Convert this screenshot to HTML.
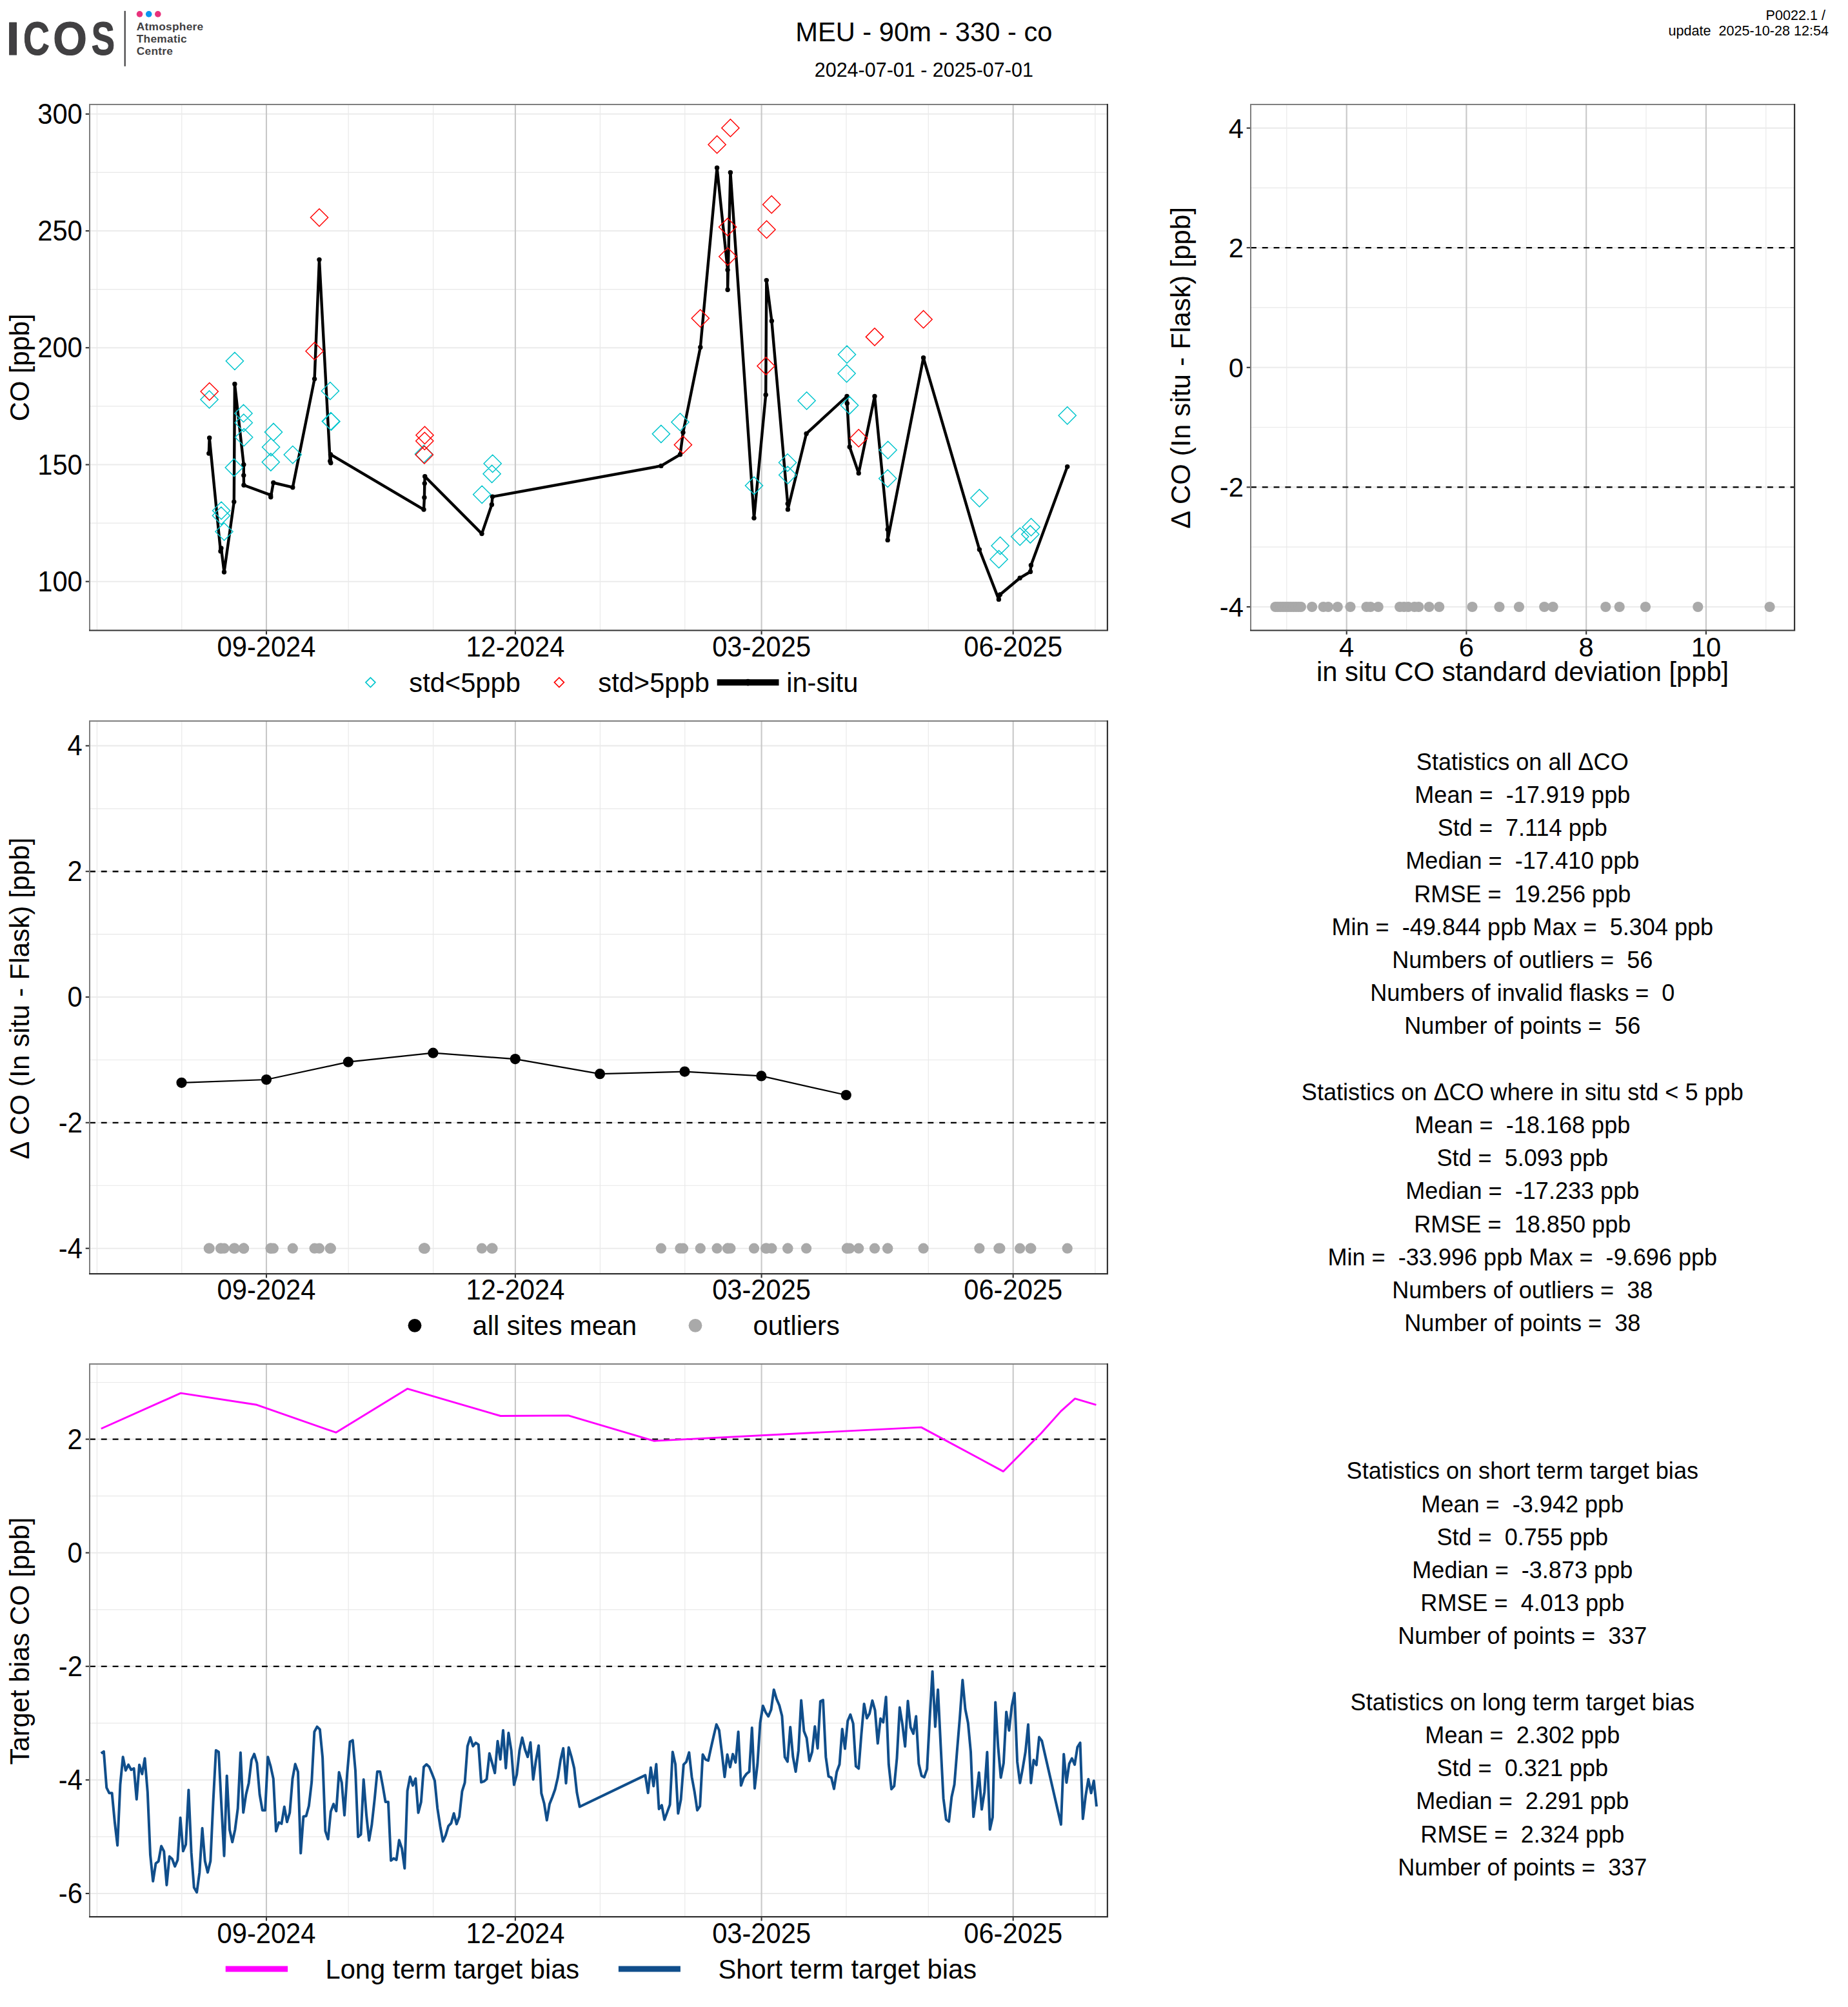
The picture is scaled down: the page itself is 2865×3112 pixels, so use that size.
<!DOCTYPE html>
<html lang="en"><head><meta charset="utf-8"><title>MEU - 90m - 330 - co</title>
<style>
html,body{margin:0;padding:0;background:#fff}
body{width:2865px;height:3112px;overflow:hidden}
svg{display:block}
text{font-family:"Liberation Sans",Arial,Helvetica,sans-serif;fill:#000}
.t{font-size:41.67px}
.s{font-size:36.1px}
.gm{stroke:#e8e8e8;stroke-width:1.15}
.gh{stroke:#ebebeb;stroke-width:2.1}
.gv{stroke:#c8c8c8;stroke-width:2.1}
.fl{fill:none;stroke:#7f7f7f;stroke-width:2}
.fd{fill:none;stroke:#333;stroke-width:2.2}
.tk{stroke:#333;stroke-width:2.1}
.da{stroke:#000;stroke-width:2.35;stroke-dasharray:8.9 8.9;fill:none}
.cy{fill:none;stroke:#00c5cd;stroke-width:1.45}
.rd{fill:none;stroke:#ff0000;stroke-width:1.45}
.gd{fill:#a9a9a9}
.lg{font-weight:bold;fill:#414042}
</style></head><body>
<svg width="2865" height="3112" viewBox="0 0 2865 3112" role="img" aria-label="ICOS ATC flask versus in-situ comparison, MEU 90m CO">
<rect width="2865" height="3112" fill="#fff"/>
<g id="logo">
<text class="lg" y="84.9" font-size="72.8" stroke="#414042" stroke-width="1.2" stroke-linejoin="round"><tspan x="9.75" textLength="20.60" lengthAdjust="spacingAndGlyphs">I</tspan><tspan x="36.05" textLength="40.83" lengthAdjust="spacingAndGlyphs">C</tspan><tspan x="82.18" textLength="52.60" lengthAdjust="spacingAndGlyphs">O</tspan><tspan x="141.78" textLength="36.30" lengthAdjust="spacingAndGlyphs">S</tspan></text>
<line x1="193.7" x2="193.7" y1="16.9" y2="102.8" stroke="#414042" stroke-width="2.2"/>
<circle cx="216.5" cy="21.9" r="4.8" fill="#e8327c"/><circle cx="230.7" cy="21.9" r="4.8" fill="#0a96f0"/><circle cx="244.8" cy="21.9" r="4.8" fill="#e8327c"/>
<text class="lg" x="211.7" y="47.2" font-size="17.3" letter-spacing="0.3">Atmosphere</text>
<text class="lg" x="211.7" y="66" font-size="17.3" letter-spacing="0.3">Thematic</text>
<text class="lg" x="211.7" y="85.1" font-size="17.3" letter-spacing="0.3">Centre</text>
</g>
<text class="t" text-anchor="middle" x="1432.3" y="63.9">MEU - 90m - 330 - co</text>
<text text-anchor="middle" x="1432.3" y="119.0" font-size="30.5">2024-07-01 - 2025-07-01</text>
<text text-anchor="end" x="2830.0" y="30.8" font-size="21.6">P0022.1 /</text>
<text text-anchor="end" x="2835.0" y="55.3" font-size="21.6" xml:space="preserve">update  2025-10-28 12:54</text>
<g id="p1">
<line class="gm" x1="139" x2="1716.9" y1="267.4" y2="267.4"/>
<line class="gm" x1="139" x2="1716.9" y1="448.6" y2="448.6"/>
<line class="gm" x1="139" x2="1716.9" y1="629.9" y2="629.9"/>
<line class="gm" x1="139" x2="1716.9" y1="811.1" y2="811.1"/>
<line class="gm" x1="150.4" x2="150.4" y1="162" y2="977.5"/>
<line class="gm" x1="281.8" x2="281.8" y1="162" y2="977.5"/>
<line class="gm" x1="540.2" x2="540.2" y1="162" y2="977.5"/>
<line class="gm" x1="671.7" x2="671.7" y1="162" y2="977.5"/>
<line class="gm" x1="930.4" x2="930.4" y1="162" y2="977.5"/>
<line class="gm" x1="1061.8" x2="1061.8" y1="162" y2="977.5"/>
<line class="gm" x1="1312" x2="1312" y1="162" y2="977.5"/>
<line class="gm" x1="1439.3" x2="1439.3" y1="162" y2="977.5"/>
<line class="gm" x1="1697.9" x2="1697.9" y1="162" y2="977.5"/>
<line class="gh" x1="139" x2="1716.9" y1="176.8" y2="176.8"/>
<line class="gh" x1="139" x2="1716.9" y1="358" y2="358"/>
<line class="gh" x1="139" x2="1716.9" y1="539.2" y2="539.2"/>
<line class="gh" x1="139" x2="1716.9" y1="720.5" y2="720.5"/>
<line class="gh" x1="139" x2="1716.9" y1="901.7" y2="901.7"/>
<line class="gv" x1="413" x2="413" y1="162" y2="977.5"/>
<line class="gv" x1="798.9" x2="798.9" y1="162" y2="977.5"/>
<line class="gv" x1="1180.6" x2="1180.6" y1="162" y2="977.5"/>
<line class="gv" x1="1570.7" x2="1570.7" y1="162" y2="977.5"/>
<polyline fill="none" stroke="#000" stroke-width="4.4" stroke-linejoin="round" points="323.8,703.1 324.7,679 342,854.8 342.9,850 347.5,887 362.8,778.1 363.9,595.5 377.8,720.4 377.8,737.1 378,752.2 419.6,767.6 419.8,770.8 423.8,748.5 453.8,755.7 487.6,587.6 495,402.6 511.7,715 512.8,717.8 512.5,704.7 657,790.1 657.9,771.5 658.3,749.6 658.7,738.8 747,827.6 762.4,782.4 763.5,770.1 1024.9,722.4 1054.5,704.8 1059,670.6 1085.8,538.5 1111.6,260.2 1128.1,418.6 1128.1,449.3 1132.4,267.4 1169,803.2 1187.2,612.3 1188.3,434.6 1196.4,497.8 1221.2,781.1 1221.4,789.9 1250.1,672.4 1313,614.5 1313.3,625.5 1317.2,693 1331.2,733.8 1356,614.5 1376.2,821 1376.2,837.4 1431.6,554.8 1518.4,852.1 1548.4,929.4 1550.4,922 1581.2,896.2 1597.5,886.5 1598.4,876.4 1654.7,723.6"/>
<g fill="#000"><circle cx="323.8" cy="703.1" r="3.7"/><circle cx="324.7" cy="679" r="3.7"/><circle cx="342" cy="854.8" r="3.7"/><circle cx="342.9" cy="850" r="3.7"/><circle cx="347.5" cy="887" r="3.7"/><circle cx="362.8" cy="778.1" r="3.7"/><circle cx="363.9" cy="595.5" r="3.7"/><circle cx="377.8" cy="720.4" r="3.7"/><circle cx="377.8" cy="737.1" r="3.7"/><circle cx="378" cy="752.2" r="3.7"/><circle cx="419.6" cy="767.6" r="3.7"/><circle cx="419.8" cy="770.8" r="3.7"/><circle cx="423.8" cy="748.5" r="3.7"/><circle cx="453.8" cy="755.7" r="3.7"/><circle cx="487.6" cy="587.6" r="3.7"/><circle cx="495" cy="402.6" r="3.7"/><circle cx="511.7" cy="715" r="3.7"/><circle cx="512.8" cy="717.8" r="3.7"/><circle cx="512.5" cy="704.7" r="3.7"/><circle cx="657" cy="790.1" r="3.7"/><circle cx="657.9" cy="771.5" r="3.7"/><circle cx="658.3" cy="749.6" r="3.7"/><circle cx="658.7" cy="738.8" r="3.7"/><circle cx="747" cy="827.6" r="3.7"/><circle cx="762.4" cy="782.4" r="3.7"/><circle cx="763.5" cy="770.1" r="3.7"/><circle cx="1024.9" cy="722.4" r="3.7"/><circle cx="1054.5" cy="704.8" r="3.7"/><circle cx="1059" cy="670.6" r="3.7"/><circle cx="1085.8" cy="538.5" r="3.7"/><circle cx="1111.6" cy="260.2" r="3.7"/><circle cx="1128.1" cy="418.6" r="3.7"/><circle cx="1128.1" cy="449.3" r="3.7"/><circle cx="1132.4" cy="267.4" r="3.7"/><circle cx="1169" cy="803.2" r="3.7"/><circle cx="1187.2" cy="612.3" r="3.7"/><circle cx="1188.3" cy="434.6" r="3.7"/><circle cx="1196.4" cy="497.8" r="3.7"/><circle cx="1221.2" cy="781.1" r="3.7"/><circle cx="1221.4" cy="789.9" r="3.7"/><circle cx="1250.1" cy="672.4" r="3.7"/><circle cx="1313" cy="614.5" r="3.7"/><circle cx="1313.3" cy="625.5" r="3.7"/><circle cx="1317.2" cy="693" r="3.7"/><circle cx="1331.2" cy="733.8" r="3.7"/><circle cx="1356" cy="614.5" r="3.7"/><circle cx="1376.2" cy="821" r="3.7"/><circle cx="1376.2" cy="837.4" r="3.7"/><circle cx="1431.6" cy="554.8" r="3.7"/><circle cx="1518.4" cy="852.1" r="3.7"/><circle cx="1548.4" cy="929.4" r="3.7"/><circle cx="1550.4" cy="922" r="3.7"/><circle cx="1581.2" cy="896.2" r="3.7"/><circle cx="1597.5" cy="886.5" r="3.7"/><circle cx="1598.4" cy="876.4" r="3.7"/><circle cx="1654.7" cy="723.6" r="3.7"/></g>
<path class="cy" d="M310.9 619.4L324.5 605.8L338.1 619.4L324.5 633ZM350.3 559.8L363.9 546.2L377.5 559.8L363.9 573.4ZM363.9 640.9L377.5 627.3L391.1 640.9L377.5 654.5ZM364.2 655.6L377.8 642L391.4 655.6L377.8 669.2ZM364.6 678.1L378.2 664.5L391.8 678.1L378.2 691.7ZM349.2 725L362.8 711.4L376.4 725L362.8 738.6ZM329.5 791.7L343.1 778.1L356.7 791.7L343.1 805.3ZM329.3 799.6L342.9 786L356.5 799.6L342.9 813.2ZM333.9 824.3L347.5 810.7L361.1 824.3L347.5 837.9ZM410.4 670L424 656.4L437.6 670L424 683.6ZM406.5 693.3L420.1 679.7L433.7 693.3L420.1 706.9ZM406.2 716.5L419.8 702.9L433.4 716.5L419.8 730.1ZM440.2 705.1L453.8 691.5L467.4 705.1L453.8 718.7ZM498.3 606.2L511.9 592.6L525.5 606.2L511.9 619.8ZM499.2 653.2L512.8 639.6L526.4 653.2L512.8 666.8ZM643.4 704L657 690.4L670.6 704L657 717.6ZM750.1 718.8L763.7 705.2L777.3 718.8L763.7 732.4ZM749 734.8L762.6 721.2L776.2 734.8L762.6 748.4ZM733.6 766.8L747.2 753.2L760.8 766.8L747.2 780.4ZM1011.3 672.8L1024.9 659.2L1038.5 672.8L1024.9 686.4ZM1040.9 654.4L1054.5 640.8L1068.1 654.4L1054.5 668ZM1299.4 549.7L1313 536.1L1326.6 549.7L1313 563.3ZM1299 579.1L1312.6 565.5L1326.2 579.1L1312.6 592.7ZM1155.4 753L1169 739.4L1182.6 753L1169 766.6ZM1207.4 717.3L1221 703.7L1234.6 717.3L1221 730.9ZM1207.6 736.6L1221.2 723L1234.8 736.6L1221.2 750.2ZM1237 621.3L1250.6 607.7L1264.2 621.3L1250.6 634.9ZM1303.4 628.5L1317 614.9L1330.6 628.5L1317 642.1ZM1363 697.8L1376.6 684.2L1390.2 697.8L1376.6 711.4ZM1362.6 741.9L1376.2 728.3L1389.8 741.9L1376.2 755.5ZM1504.8 772.3L1518.4 758.7L1532 772.3L1518.4 785.9ZM1641.1 644.3L1654.7 630.7L1668.3 644.3L1654.7 657.9ZM1537 846.2L1550.6 832.6L1564.2 846.2L1550.6 859.8ZM1535 867.2L1548.6 853.6L1562.2 867.2L1548.6 880.8ZM1567.6 832.1L1581.2 818.5L1594.8 832.1L1581.2 845.7ZM1585 817.3L1598.6 803.7L1612.2 817.3L1598.6 830.9ZM1583.7 828.5L1597.3 814.9L1610.9 828.5L1597.3 842.1ZM499.9 653.6L513.5 640L527.1 653.6L513.5 667.2Z"/>
<path class="rd" d="M311.1 607.1L324.7 593.5L338.3 607.1L324.7 620.7ZM474 544.4L487.6 530.8L501.2 544.4L487.6 558ZM644.9 674.8L658.5 661.2L672.1 674.8L658.5 688.4ZM644.7 683.8L658.3 670.2L671.9 683.8L658.3 697.4ZM644.3 705.3L657.9 691.7L671.5 705.3L657.9 718.9ZM481.4 337.3L495 323.7L508.6 337.3L495 350.9ZM1045.3 689.7L1058.9 676.1L1072.5 689.7L1058.9 703.3ZM1118.8 198.4L1132.4 184.8L1146 198.4L1132.4 212ZM1098 224.2L1111.6 210.6L1125.2 224.2L1111.6 237.8ZM1114.5 352L1128.1 338.4L1141.7 352L1128.1 365.6ZM1114.7 397.8L1128.3 384.2L1141.9 397.8L1128.3 411.4ZM1072.2 493.6L1085.8 480L1099.4 493.6L1085.8 507.2ZM1182.6 317.2L1196.2 303.6L1209.8 317.2L1196.2 330.8ZM1174.9 355.9L1188.5 342.3L1202.1 355.9L1188.5 369.5ZM1173.9 567.5L1187.5 553.9L1201.1 567.5L1187.5 581.1ZM1342.4 522.3L1356 508.7L1369.6 522.3L1356 535.9ZM1317.6 679.4L1331.2 665.8L1344.8 679.4L1331.2 693ZM1342.4 522.4L1356 508.8L1369.6 522.4L1356 536ZM1418 495.2L1431.6 481.6L1445.2 495.2L1431.6 508.8Z"/>
<path class="fl" d="M139 977.5V162H1716.9"/><path class="fd" d="M138 977.5H1716.9V161"/>
<line class="tk" x1="132.7" x2="138" y1="176.8" y2="176.8"/>
<text class="t" text-anchor="end" transform="translate(127.8 191.8) scale(1 1.05)">300</text>
<line class="tk" x1="132.7" x2="138" y1="358" y2="358"/>
<text class="t" text-anchor="end" transform="translate(127.8 373) scale(1 1.05)">250</text>
<line class="tk" x1="132.7" x2="138" y1="539.2" y2="539.2"/>
<text class="t" text-anchor="end" transform="translate(127.8 554.2) scale(1 1.05)">200</text>
<line class="tk" x1="132.7" x2="138" y1="720.5" y2="720.5"/>
<text class="t" text-anchor="end" transform="translate(127.8 735.5) scale(1 1.05)">150</text>
<line class="tk" x1="132.7" x2="138" y1="901.7" y2="901.7"/>
<text class="t" text-anchor="end" transform="translate(127.8 916.7) scale(1 1.05)">100</text>
<line class="tk" x1="413" x2="413" y1="978.5" y2="983.8"/>
<text class="t" text-anchor="middle" transform="translate(413 1018.1) scale(1 1.05)">09-2024</text>
<line class="tk" x1="798.9" x2="798.9" y1="978.5" y2="983.8"/>
<text class="t" text-anchor="middle" transform="translate(798.9 1018.1) scale(1 1.05)">12-2024</text>
<line class="tk" x1="1180.6" x2="1180.6" y1="978.5" y2="983.8"/>
<text class="t" text-anchor="middle" transform="translate(1180.6 1018.1) scale(1 1.05)">03-2025</text>
<line class="tk" x1="1570.7" x2="1570.7" y1="978.5" y2="983.8"/>
<text class="t" text-anchor="middle" transform="translate(1570.7 1018.1) scale(1 1.05)">06-2025</text>
<text class="t" text-anchor="middle" letter-spacing="0.0" transform="translate(45 569.8) rotate(-90)">CO [ppb]</text>
<path class="cy" style="stroke-width:1.7" d="M566.9 1058.1L574.4 1050.6L581.9 1058.1L574.4 1065.6Z"/>
<text class="t" x="634.3" y="1072.7">std&lt;5ppb</text>
<path class="rd" style="stroke-width:1.7" d="M859.4 1058.1L866.9 1050.6L874.4 1058.1L866.9 1065.6Z"/>
<text class="t" x="927.3" y="1072.7">std&gt;5ppb</text>
<line x1="1111.7" x2="1207.5" y1="1058.1" y2="1058.1" stroke="#000" stroke-width="9.7"/><circle cx="1159.6" cy="1058.1" r="5.3" fill="#000"/>
<text class="t" x="1219.2" y="1072.7">in-situ</text>
</g>
<g id="p2">
<line class="gm" x1="1939" x2="2782.1" y1="291.4" y2="291.4"/>
<line class="gm" x1="1939" x2="2782.1" y1="476.9" y2="476.9"/>
<line class="gm" x1="1939" x2="2782.1" y1="662.5" y2="662.5"/>
<line class="gm" x1="1939" x2="2782.1" y1="848.1" y2="848.1"/>
<line class="gm" x1="1994.8" x2="1994.8" y1="162" y2="977.5"/>
<line class="gm" x1="2180.6" x2="2180.6" y1="162" y2="977.5"/>
<line class="gm" x1="2366.3" x2="2366.3" y1="162" y2="977.5"/>
<line class="gm" x1="2552" x2="2552" y1="162" y2="977.5"/>
<line class="gm" x1="2737.8" x2="2737.8" y1="162" y2="977.5"/>
<line class="gh" x1="1939" x2="2782.1" y1="198.6" y2="198.6"/>
<line class="gh" x1="1939" x2="2782.1" y1="384.1" y2="384.1"/>
<line class="gh" x1="1939" x2="2782.1" y1="569.8" y2="569.8"/>
<line class="gh" x1="1939" x2="2782.1" y1="755.4" y2="755.4"/>
<line class="gh" x1="1939" x2="2782.1" y1="941" y2="941"/>
<line class="gv" x1="2087.7" x2="2087.7" y1="162" y2="977.5"/>
<line class="gv" x1="2273.4" x2="2273.4" y1="162" y2="977.5"/>
<line class="gv" x1="2459.2" x2="2459.2" y1="162" y2="977.5"/>
<line class="gv" x1="2644.9" x2="2644.9" y1="162" y2="977.5"/>
<line class="da" x1="1939" x2="2782.1" y1="384.1" y2="384.1"/>
<line class="da" x1="1939" x2="2782.1" y1="755.4" y2="755.4"/>
<g class="gd"><circle cx="1977.3" cy="941" r="8.1"/><circle cx="1981" cy="941" r="8.1"/><circle cx="1985" cy="941" r="8.1"/><circle cx="1989" cy="941" r="8.1"/><circle cx="1993" cy="941" r="8.1"/><circle cx="1997" cy="941" r="8.1"/><circle cx="2001" cy="941" r="8.1"/><circle cx="2005" cy="941" r="8.1"/><circle cx="2009" cy="941" r="8.1"/><circle cx="2013" cy="941" r="8.1"/><circle cx="2016.9" cy="941" r="8.1"/><circle cx="2034.1" cy="941" r="8.1"/><circle cx="2051.6" cy="941" r="8.1"/><circle cx="2059.1" cy="941" r="8.1"/><circle cx="2073.7" cy="941" r="8.1"/><circle cx="2093.5" cy="941" r="8.1"/><circle cx="2118.5" cy="941" r="8.1"/><circle cx="2124.7" cy="941" r="8.1"/><circle cx="2136.7" cy="941" r="8.1"/><circle cx="2170.1" cy="941" r="8.1"/><circle cx="2176.6" cy="941" r="8.1"/><circle cx="2183.1" cy="941" r="8.1"/><circle cx="2192.9" cy="941" r="8.1"/><circle cx="2199.4" cy="941" r="8.1"/><circle cx="2215.6" cy="941" r="8.1"/><circle cx="2231.2" cy="941" r="8.1"/><circle cx="2282.5" cy="941" r="8.1"/><circle cx="2324.5" cy="941" r="8.1"/><circle cx="2355" cy="941" r="8.1"/><circle cx="2394.2" cy="941" r="8.1"/><circle cx="2407.6" cy="941" r="8.1"/><circle cx="2489.3" cy="941" r="8.1"/><circle cx="2510.7" cy="941" r="8.1"/><circle cx="2551" cy="941" r="8.1"/><circle cx="2632.3" cy="941" r="8.1"/><circle cx="2743.6" cy="941" r="8.1"/></g>
<path class="fl" d="M1939 977.5V162H2782.1"/><path class="fd" d="M1938 977.5H2782.1V161"/>
<line class="tk" x1="1932.7" x2="1938" y1="198.6" y2="198.6"/>
<text class="t" text-anchor="end" transform="translate(1927.8 213.6) scale(1 1.0)">4</text>
<line class="tk" x1="1932.7" x2="1938" y1="384.1" y2="384.1"/>
<text class="t" text-anchor="end" transform="translate(1927.8 399.1) scale(1 1.0)">2</text>
<line class="tk" x1="1932.7" x2="1938" y1="569.8" y2="569.8"/>
<text class="t" text-anchor="end" transform="translate(1927.8 584.8) scale(1 1.0)">0</text>
<line class="tk" x1="1932.7" x2="1938" y1="755.4" y2="755.4"/>
<text class="t" text-anchor="end" transform="translate(1927.8 770.4) scale(1 1.0)">-2</text>
<line class="tk" x1="1932.7" x2="1938" y1="941" y2="941"/>
<text class="t" text-anchor="end" transform="translate(1927.8 956) scale(1 1.0)">-4</text>
<line class="tk" x1="2087.7" x2="2087.7" y1="978.5" y2="983.8"/>
<text class="t" text-anchor="middle" transform="translate(2087.7 1018.1) scale(1 1.0)">4</text>
<line class="tk" x1="2273.4" x2="2273.4" y1="978.5" y2="983.8"/>
<text class="t" text-anchor="middle" transform="translate(2273.4 1018.1) scale(1 1.0)">6</text>
<line class="tk" x1="2459.2" x2="2459.2" y1="978.5" y2="983.8"/>
<text class="t" text-anchor="middle" transform="translate(2459.2 1018.1) scale(1 1.0)">8</text>
<line class="tk" x1="2644.9" x2="2644.9" y1="978.5" y2="983.8"/>
<text class="t" text-anchor="middle" transform="translate(2644.9 1018.1) scale(1 1.0)">10</text>
<text class="t" text-anchor="middle" x="2360.6" y="1056.2">in situ CO standard deviation [ppb]</text>
<text class="t" text-anchor="middle" letter-spacing="0.3" transform="translate(1844.6 570.2) rotate(-90)">&#916; CO (In situ - Flask) [ppb]</text>
</g>
<g id="p3">
<line class="gm" x1="139" x2="1716.9" y1="1253.8" y2="1253.8"/>
<line class="gm" x1="139" x2="1716.9" y1="1448.6" y2="1448.6"/>
<line class="gm" x1="139" x2="1716.9" y1="1643.5" y2="1643.5"/>
<line class="gm" x1="139" x2="1716.9" y1="1838.2" y2="1838.2"/>
<line class="gm" x1="150.4" x2="150.4" y1="1118" y2="1975.1"/>
<line class="gm" x1="281.8" x2="281.8" y1="1118" y2="1975.1"/>
<line class="gm" x1="540.2" x2="540.2" y1="1118" y2="1975.1"/>
<line class="gm" x1="671.7" x2="671.7" y1="1118" y2="1975.1"/>
<line class="gm" x1="930.4" x2="930.4" y1="1118" y2="1975.1"/>
<line class="gm" x1="1061.8" x2="1061.8" y1="1118" y2="1975.1"/>
<line class="gm" x1="1312" x2="1312" y1="1118" y2="1975.1"/>
<line class="gm" x1="1439.3" x2="1439.3" y1="1118" y2="1975.1"/>
<line class="gm" x1="1697.9" x2="1697.9" y1="1118" y2="1975.1"/>
<line class="gh" x1="139" x2="1716.9" y1="1156.4" y2="1156.4"/>
<line class="gh" x1="139" x2="1716.9" y1="1351.2" y2="1351.2"/>
<line class="gh" x1="139" x2="1716.9" y1="1546" y2="1546"/>
<line class="gh" x1="139" x2="1716.9" y1="1740.8" y2="1740.8"/>
<line class="gh" x1="139" x2="1716.9" y1="1935.7" y2="1935.7"/>
<line class="gv" x1="413" x2="413" y1="1118" y2="1975.1"/>
<line class="gv" x1="798.9" x2="798.9" y1="1118" y2="1975.1"/>
<line class="gv" x1="1180.6" x2="1180.6" y1="1118" y2="1975.1"/>
<line class="gv" x1="1570.7" x2="1570.7" y1="1118" y2="1975.1"/>
<line class="da" x1="139" x2="1716.9" y1="1351.2" y2="1351.2"/>
<line class="da" x1="139" x2="1716.9" y1="1740.8" y2="1740.8"/>
<g class="gd"><circle cx="323.8" cy="1935.7" r="8.1"/><circle cx="324.7" cy="1935.7" r="8.1"/><circle cx="342" cy="1935.7" r="8.1"/><circle cx="342.9" cy="1935.7" r="8.1"/><circle cx="347.5" cy="1935.7" r="8.1"/><circle cx="362.8" cy="1935.7" r="8.1"/><circle cx="363.9" cy="1935.7" r="8.1"/><circle cx="377.8" cy="1935.7" r="8.1"/><circle cx="377.8" cy="1935.7" r="8.1"/><circle cx="378" cy="1935.7" r="8.1"/><circle cx="419.6" cy="1935.7" r="8.1"/><circle cx="419.8" cy="1935.7" r="8.1"/><circle cx="423.8" cy="1935.7" r="8.1"/><circle cx="453.8" cy="1935.7" r="8.1"/><circle cx="487.6" cy="1935.7" r="8.1"/><circle cx="495" cy="1935.7" r="8.1"/><circle cx="511.7" cy="1935.7" r="8.1"/><circle cx="512.8" cy="1935.7" r="8.1"/><circle cx="512.5" cy="1935.7" r="8.1"/><circle cx="657" cy="1935.7" r="8.1"/><circle cx="657.9" cy="1935.7" r="8.1"/><circle cx="658.3" cy="1935.7" r="8.1"/><circle cx="658.7" cy="1935.7" r="8.1"/><circle cx="747" cy="1935.7" r="8.1"/><circle cx="762.4" cy="1935.7" r="8.1"/><circle cx="763.5" cy="1935.7" r="8.1"/><circle cx="1024.9" cy="1935.7" r="8.1"/><circle cx="1054.5" cy="1935.7" r="8.1"/><circle cx="1059" cy="1935.7" r="8.1"/><circle cx="1085.8" cy="1935.7" r="8.1"/><circle cx="1111.6" cy="1935.7" r="8.1"/><circle cx="1128.1" cy="1935.7" r="8.1"/><circle cx="1128.1" cy="1935.7" r="8.1"/><circle cx="1132.4" cy="1935.7" r="8.1"/><circle cx="1169" cy="1935.7" r="8.1"/><circle cx="1187.2" cy="1935.7" r="8.1"/><circle cx="1188.3" cy="1935.7" r="8.1"/><circle cx="1196.4" cy="1935.7" r="8.1"/><circle cx="1221.2" cy="1935.7" r="8.1"/><circle cx="1221.4" cy="1935.7" r="8.1"/><circle cx="1250.1" cy="1935.7" r="8.1"/><circle cx="1313" cy="1935.7" r="8.1"/><circle cx="1313.3" cy="1935.7" r="8.1"/><circle cx="1317.2" cy="1935.7" r="8.1"/><circle cx="1331.2" cy="1935.7" r="8.1"/><circle cx="1356" cy="1935.7" r="8.1"/><circle cx="1376.2" cy="1935.7" r="8.1"/><circle cx="1376.2" cy="1935.7" r="8.1"/><circle cx="1431.6" cy="1935.7" r="8.1"/><circle cx="1518.4" cy="1935.7" r="8.1"/><circle cx="1548.4" cy="1935.7" r="8.1"/><circle cx="1550.4" cy="1935.7" r="8.1"/><circle cx="1581.2" cy="1935.7" r="8.1"/><circle cx="1597.5" cy="1935.7" r="8.1"/><circle cx="1598.4" cy="1935.7" r="8.1"/><circle cx="1654.7" cy="1935.7" r="8.1"/></g>
<polyline fill="none" stroke="#000" stroke-width="2.2" stroke-linejoin="round" points="281.5,1678.8 413,1674 539.9,1646.7 671.4,1632.7 798.8,1642.1 930,1665.2 1061.5,1661.6 1180.3,1668.4 1311.8,1698"/>
<g fill="#000"><circle cx="281.5" cy="1678.8" r="8.1"/><circle cx="413" cy="1674" r="8.1"/><circle cx="539.9" cy="1646.7" r="8.1"/><circle cx="671.4" cy="1632.7" r="8.1"/><circle cx="798.8" cy="1642.1" r="8.1"/><circle cx="930" cy="1665.2" r="8.1"/><circle cx="1061.5" cy="1661.6" r="8.1"/><circle cx="1180.3" cy="1668.4" r="8.1"/><circle cx="1311.8" cy="1698" r="8.1"/></g>
<path class="fl" d="M139 1975.1V1118H1716.9"/><path class="fd" d="M138 1975.1H1716.9V1117"/>
<line class="tk" x1="132.7" x2="138" y1="1156.4" y2="1156.4"/>
<text class="t" text-anchor="end" transform="translate(127.8 1171.4) scale(1 1.05)">4</text>
<line class="tk" x1="132.7" x2="138" y1="1351.2" y2="1351.2"/>
<text class="t" text-anchor="end" transform="translate(127.8 1366.2) scale(1 1.05)">2</text>
<line class="tk" x1="132.7" x2="138" y1="1546" y2="1546"/>
<text class="t" text-anchor="end" transform="translate(127.8 1561) scale(1 1.05)">0</text>
<line class="tk" x1="132.7" x2="138" y1="1740.8" y2="1740.8"/>
<text class="t" text-anchor="end" transform="translate(127.8 1755.8) scale(1 1.05)">-2</text>
<line class="tk" x1="132.7" x2="138" y1="1935.7" y2="1935.7"/>
<text class="t" text-anchor="end" transform="translate(127.8 1950.7) scale(1 1.05)">-4</text>
<line class="tk" x1="413" x2="413" y1="1976.1" y2="1981.4"/>
<text class="t" text-anchor="middle" transform="translate(413 2014.9) scale(1 1.06)">09-2024</text>
<line class="tk" x1="798.9" x2="798.9" y1="1976.1" y2="1981.4"/>
<text class="t" text-anchor="middle" transform="translate(798.9 2014.9) scale(1 1.06)">12-2024</text>
<line class="tk" x1="1180.6" x2="1180.6" y1="1976.1" y2="1981.4"/>
<text class="t" text-anchor="middle" transform="translate(1180.6 2014.9) scale(1 1.06)">03-2025</text>
<line class="tk" x1="1570.7" x2="1570.7" y1="1976.1" y2="1981.4"/>
<text class="t" text-anchor="middle" transform="translate(1570.7 2014.9) scale(1 1.06)">06-2025</text>
<text class="t" text-anchor="middle" letter-spacing="0.3" transform="translate(45 1548) rotate(-90)">&#916; CO (In situ - Flask) [ppb]</text>
<circle cx="643" cy="2055.3" r="10.4" fill="#000"/>
<text class="t" x="732.6" y="2069.9">all sites mean</text>
<circle cx="1078" cy="2055.3" r="10.4" fill="#a9a9a9"/>
<text class="t" x="1167.5" y="2069.9">outliers</text>
</g>
<g id="p4">
<line class="gm" x1="139" x2="1716.9" y1="2143.5" y2="2143.5"/>
<line class="gm" x1="139" x2="1716.9" y1="2319.6" y2="2319.6"/>
<line class="gm" x1="139" x2="1716.9" y1="2495.8" y2="2495.8"/>
<line class="gm" x1="139" x2="1716.9" y1="2671.8" y2="2671.8"/>
<line class="gm" x1="139" x2="1716.9" y1="2847.9" y2="2847.9"/>
<line class="gm" x1="150.4" x2="150.4" y1="2115.1" y2="2972.1"/>
<line class="gm" x1="281.8" x2="281.8" y1="2115.1" y2="2972.1"/>
<line class="gm" x1="540.2" x2="540.2" y1="2115.1" y2="2972.1"/>
<line class="gm" x1="671.7" x2="671.7" y1="2115.1" y2="2972.1"/>
<line class="gm" x1="930.4" x2="930.4" y1="2115.1" y2="2972.1"/>
<line class="gm" x1="1061.8" x2="1061.8" y1="2115.1" y2="2972.1"/>
<line class="gm" x1="1312" x2="1312" y1="2115.1" y2="2972.1"/>
<line class="gm" x1="1439.3" x2="1439.3" y1="2115.1" y2="2972.1"/>
<line class="gm" x1="1697.9" x2="1697.9" y1="2115.1" y2="2972.1"/>
<line class="gh" x1="139" x2="1716.9" y1="2231.6" y2="2231.6"/>
<line class="gh" x1="139" x2="1716.9" y1="2407.7" y2="2407.7"/>
<line class="gh" x1="139" x2="1716.9" y1="2583.8" y2="2583.8"/>
<line class="gh" x1="139" x2="1716.9" y1="2759.9" y2="2759.9"/>
<line class="gh" x1="139" x2="1716.9" y1="2936" y2="2936"/>
<line class="gv" x1="413" x2="413" y1="2115.1" y2="2972.1"/>
<line class="gv" x1="798.9" x2="798.9" y1="2115.1" y2="2972.1"/>
<line class="gv" x1="1180.6" x2="1180.6" y1="2115.1" y2="2972.1"/>
<line class="gv" x1="1570.7" x2="1570.7" y1="2115.1" y2="2972.1"/>
<line class="da" x1="139" x2="1716.9" y1="2231.6" y2="2231.6"/>
<line class="da" x1="139" x2="1716.9" y1="2583.8" y2="2583.8"/>
<polyline fill="none" stroke="#104e8b" stroke-width="4.0" stroke-linejoin="round" points="156.7,2718.7 160.9,2715.8 165.2,2771.9 169.4,2780.3 173.6,2780.3 177.9,2825.5 182.1,2861.5 186.4,2767 190.6,2724.2 194.8,2745.2 199.1,2736.4 203.3,2744.2 207.6,2742.1 211.8,2790 216,2736.4 220.3,2750.8 224.5,2726.5 228.8,2778.7 233,2876.1 237.2,2917 241.5,2889.4 245.7,2886.2 250,2862.5 254.2,2870.6 258.4,2922.9 262.7,2878.6 266.9,2882.5 271.2,2894 275.4,2883.9 279.6,2818.6 283.9,2870.3 288.1,2859.9 292.4,2775.4 296.6,2872.2 300.8,2926.8 305.1,2934.2 309.3,2903.4 313.6,2834.8 317.8,2885.8 322,2903.4 326.3,2885.8 330.5,2794.3 334.8,2714 339,2716.4 343.2,2798.2 347.5,2877.7 351.7,2753.4 356,2837.1 360.2,2856.2 364.4,2837.1 368.7,2804 372.9,2717.5 377.2,2810.5 381.4,2782.6 385.6,2765.1 389.9,2729 394.1,2719.7 398.4,2733.9 402.6,2782.6 406.8,2806.9 411.1,2806.9 415.3,2724.2 419.6,2738.8 423.8,2758.2 428,2839.5 432.3,2825.8 436.5,2827.8 440.8,2801.5 445,2825.1 449.2,2810.8 453.5,2758.2 457.7,2735.3 462,2747.5 466.2,2873.6 470.4,2816.7 474.7,2815.7 478.9,2800.1 483.2,2763.1 487.4,2685.2 491.6,2677.4 495.9,2681.7 500.1,2725.1 504.4,2839.1 508.6,2851.8 512.8,2808.9 517.1,2797.2 521.3,2808.3 525.6,2747.9 529.8,2764.1 534,2814.7 538.3,2749.5 542.5,2700.8 546.8,2698.4 551,2745.6 555.2,2848.2 559.5,2844.5 563.7,2759.2 568,2813.8 572.2,2853.7 576.4,2829.4 580.7,2790.4 584.9,2747.1 589.2,2746.9 593.4,2769 597.6,2793.9 601.9,2793.9 606.1,2884.9 610.4,2881.6 614.6,2883.9 618.8,2853.3 623.1,2866.4 627.3,2897.1 631.6,2776.8 635.8,2754.9 640,2768.6 644.3,2757.7 648.5,2810.8 652.8,2794.3 657,2739.7 661.2,2735.8 665.5,2739.7 669.7,2749.9 674,2761.2 678.2,2804 682.4,2831.3 686.7,2855.3 690.9,2845.9 695.2,2831.3 699.4,2827 703.6,2811.8 707.9,2828.4 712.1,2816.7 716.4,2777.7 720.6,2764.1 724.8,2707.6 729.1,2694 733.3,2707.6 737.6,2702.3 741.8,2705.1 746,2763.5 750.3,2762.1 754.5,2758.8 758.8,2718.7 763,2733.9 767.2,2749.1 771.5,2699.8 775.7,2728.1 780,2682.9 784.2,2741.7 788.4,2687.1 792.7,2714.4 796.9,2767.4 801.2,2751.4 805.4,2714.4 809.6,2694.4 813.9,2712.5 818.1,2724.2 822.4,2701.8 826.6,2759.2 830.8,2730 835.1,2706.6 839.3,2780.6 843.6,2796.2 847.8,2822.5 852,2797.2 856.3,2786.5 860.5,2774.8 864.8,2756.3 869,2729 873.2,2710.9 877.5,2765.1 881.7,2709.5 886,2724.2 890.2,2741.7 894.4,2779.7 898.7,2801.5 1000.4,2752.6 1004.7,2780.1 1008.9,2740.7 1013.2,2769.4 1017.4,2735.5 1021.6,2805 1025.9,2799.2 1030.1,2821.6 1034.4,2809.9 1038.6,2798.2 1042.8,2716.4 1047.1,2735.8 1051.3,2811.8 1055.6,2790.4 1059.8,2736.2 1064,2731.9 1068.3,2717.3 1072.5,2755.3 1076.8,2778.7 1081,2806.9 1085.2,2800.7 1089.5,2720.6 1093.7,2728.1 1098,2730 1102.2,2710.5 1106.4,2692 1110.7,2673.9 1114.9,2682.9 1119.2,2718.3 1123.4,2755.3 1127.6,2720.6 1131.9,2740.1 1136.1,2719.9 1140.4,2732.9 1144.6,2685.2 1148.8,2768.6 1153.1,2756.3 1157.3,2750.5 1161.6,2747.1 1165.8,2679 1170,2772.9 1174.3,2735.8 1178.5,2671.6 1182.8,2644.9 1187,2655 1191.2,2661.4 1195.5,2651.1 1199.7,2619.9 1204,2634.5 1208.2,2644.3 1212.4,2660.8 1216.7,2724.5 1220.9,2731.6 1225.2,2678 1229.4,2724.2 1233.6,2747.1 1237.9,2714.4 1242.1,2636.5 1246.4,2684.2 1250.6,2694.9 1254.8,2730.4 1259.1,2716.4 1263.3,2677 1267.6,2710.9 1271.8,2638.1 1276,2636.1 1280.3,2724.2 1284.5,2754.4 1288.8,2756.3 1293,2773.8 1297.2,2747.5 1301.5,2735.8 1305.7,2680.9 1310,2711.5 1314.2,2668.6 1318.4,2658.5 1322.7,2672.5 1326.9,2738.8 1331.2,2742.3 1335.4,2689.1 1339.6,2641.9 1343.9,2664.2 1348.1,2656.9 1352.4,2636.9 1356.6,2652.1 1360.8,2703.3 1365.1,2664.7 1369.3,2670.6 1373.6,2631.2 1377.8,2735.8 1382,2774.2 1386.3,2769.4 1390.5,2726.1 1394.8,2647.6 1399,2673.5 1403.2,2708 1407.5,2637.5 1411.7,2678.4 1416,2688.1 1420.2,2661.2 1424.4,2734.9 1428.7,2753.4 1432.9,2755.7 1437.2,2743.2 1441.4,2663.8 1445.6,2591.7 1449.9,2677.4 1454.1,2619.9 1458.4,2706.6 1462.6,2788.4 1466.8,2821.2 1471.1,2824.5 1475.3,2786.5 1479.6,2767 1483.8,2714.4 1488,2663.8 1492.3,2604.9 1496.5,2650.1 1500.8,2671.6 1505,2716.4 1509.2,2817.1 1513.5,2784.5 1517.7,2748.5 1522,2805.6 1526.2,2778.7 1530.4,2716.8 1534.7,2836.8 1538.9,2817.7 1543.2,2639.4 1547.4,2708.6 1551.6,2756.3 1555.9,2733.9 1560.1,2654.4 1564.4,2683.2 1568.6,2645.3 1572.8,2625.2 1577.1,2731.9 1581.3,2764.7 1585.6,2741.7 1589.8,2716.4 1594,2673.9 1598.3,2764.7 1602.5,2729 1606.8,2736.8 1611,2693.6 1615.2,2699.2 1644.9,2829 1649.2,2719.9 1653.4,2764.1 1657.6,2734.9 1661.9,2726.5 1666.1,2736.2 1670.4,2709 1674.6,2702.3 1678.8,2820.2 1683.1,2784.5 1687.3,2758.8 1691.6,2780.3 1695.8,2761.2 1700,2801.1"/>
<polyline fill="none" stroke="#ff00ff" stroke-width="2.9" stroke-linejoin="round" points="156.8,2215.3 280.2,2160.1 398.1,2178.3 520.8,2221.2 631.8,2153.3 776,2195.5 881.2,2194.9 1013.6,2234.2 1428.2,2213.1 1555.5,2281.6 1614,2222.5 1644.8,2188.1 1666.6,2168.6 1699.4,2178.3"/>
<path class="fl" d="M139 2972.1V2115.1H1716.9"/><path class="fd" d="M138 2972.1H1716.9V2114.1"/>
<line class="tk" x1="132.7" x2="138" y1="2231.6" y2="2231.6"/>
<text class="t" text-anchor="end" transform="translate(127.8 2246.6) scale(1 1.05)">2</text>
<line class="tk" x1="132.7" x2="138" y1="2407.7" y2="2407.7"/>
<text class="t" text-anchor="end" transform="translate(127.8 2422.7) scale(1 1.05)">0</text>
<line class="tk" x1="132.7" x2="138" y1="2583.8" y2="2583.8"/>
<text class="t" text-anchor="end" transform="translate(127.8 2598.8) scale(1 1.05)">-2</text>
<line class="tk" x1="132.7" x2="138" y1="2759.9" y2="2759.9"/>
<text class="t" text-anchor="end" transform="translate(127.8 2774.9) scale(1 1.05)">-4</text>
<line class="tk" x1="132.7" x2="138" y1="2936" y2="2936"/>
<text class="t" text-anchor="end" transform="translate(127.8 2951) scale(1 1.05)">-6</text>
<line class="tk" x1="413" x2="413" y1="2973.1" y2="2978.4"/>
<text class="t" text-anchor="middle" transform="translate(413 3012.7) scale(1 1.05)">09-2024</text>
<line class="tk" x1="798.9" x2="798.9" y1="2973.1" y2="2978.4"/>
<text class="t" text-anchor="middle" transform="translate(798.9 3012.7) scale(1 1.05)">12-2024</text>
<line class="tk" x1="1180.6" x2="1180.6" y1="2973.1" y2="2978.4"/>
<text class="t" text-anchor="middle" transform="translate(1180.6 3012.7) scale(1 1.05)">03-2025</text>
<line class="tk" x1="1570.7" x2="1570.7" y1="2973.1" y2="2978.4"/>
<text class="t" text-anchor="middle" transform="translate(1570.7 3012.7) scale(1 1.05)">06-2025</text>
<text class="t" text-anchor="middle" letter-spacing="0.1" transform="translate(45 2544.6) rotate(-90)">Target bias CO [ppb]</text>
<line x1="349.7" x2="446.1" y1="3052.9" y2="3052.9" stroke="#ff00ff" stroke-width="9.0"/>
<text class="t" x="504.5" y="3067.5">Long term target bias</text>
<line x1="958.9" x2="1054.9" y1="3052.9" y2="3052.9" stroke="#104e8b" stroke-width="9.0"/>
<text class="t" x="1113.5" y="3067.5">Short term target bias</text>
</g>
<g id="stats" text-anchor="middle">
<text class="s" x="2360.3" y="1193.7" xml:space="preserve">Statistics on all &#916;CO</text>
<text class="s" x="2360.3" y="1244.9" xml:space="preserve">Mean =  -17.919 ppb</text>
<text class="s" x="2360.3" y="1296.1" xml:space="preserve">Std =  7.114 ppb</text>
<text class="s" x="2360.3" y="1347.3" xml:space="preserve">Median =  -17.410 ppb</text>
<text class="s" x="2360.3" y="1398.5" xml:space="preserve">RMSE =  19.256 ppb</text>
<text class="s" x="2360.3" y="1449.7" xml:space="preserve">Min =  -49.844 ppb Max =  5.304 ppb</text>
<text class="s" x="2360.3" y="1500.9" xml:space="preserve">Numbers of outliers =  56</text>
<text class="s" x="2360.3" y="1552.1" xml:space="preserve">Numbers of invalid flasks =  0</text>
<text class="s" x="2360.3" y="1603.3" xml:space="preserve">Number of points =  56</text>
<text class="s" x="2360.3" y="1705.7" xml:space="preserve">Statistics on &#916;CO where in situ std &lt; 5 ppb</text>
<text class="s" x="2360.3" y="1756.9" xml:space="preserve">Mean =  -18.168 ppb</text>
<text class="s" x="2360.3" y="1808.1" xml:space="preserve">Std =  5.093 ppb</text>
<text class="s" x="2360.3" y="1859.3" xml:space="preserve">Median =  -17.233 ppb</text>
<text class="s" x="2360.3" y="1910.5" xml:space="preserve">RMSE =  18.850 ppb</text>
<text class="s" x="2360.3" y="1961.7" xml:space="preserve">Min =  -33.996 ppb Max =  -9.696 ppb</text>
<text class="s" x="2360.3" y="2012.9" xml:space="preserve">Numbers of outliers =  38</text>
<text class="s" x="2360.3" y="2064.1" xml:space="preserve">Number of points =  38</text>
<text class="s" x="2360.3" y="2293.4" xml:space="preserve">Statistics on short term target bias</text>
<text class="s" x="2360.3" y="2344.6" xml:space="preserve">Mean =  -3.942 ppb</text>
<text class="s" x="2360.3" y="2395.8" xml:space="preserve">Std =  0.755 ppb</text>
<text class="s" x="2360.3" y="2447" xml:space="preserve">Median =  -3.873 ppb</text>
<text class="s" x="2360.3" y="2498.2" xml:space="preserve">RMSE =  4.013 ppb</text>
<text class="s" x="2360.3" y="2549.4" xml:space="preserve">Number of points =  337</text>
<text class="s" x="2360.3" y="2651.8" xml:space="preserve">Statistics on long term target bias</text>
<text class="s" x="2360.3" y="2703" xml:space="preserve">Mean =  2.302 ppb</text>
<text class="s" x="2360.3" y="2754.2" xml:space="preserve">Std =  0.321 ppb</text>
<text class="s" x="2360.3" y="2805.4" xml:space="preserve">Median =  2.291 ppb</text>
<text class="s" x="2360.3" y="2856.6" xml:space="preserve">RMSE =  2.324 ppb</text>
<text class="s" x="2360.3" y="2907.8" xml:space="preserve">Number of points =  337</text>
</g>
</svg></body></html>
